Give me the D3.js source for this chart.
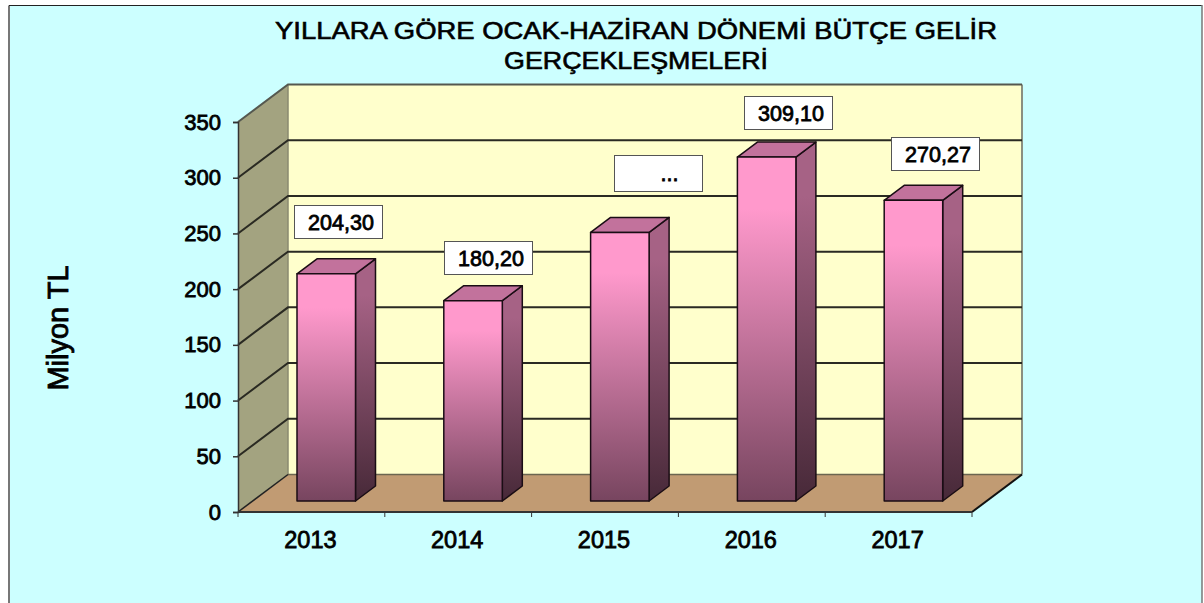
<!DOCTYPE html>
<html><head><meta charset="utf-8">
<script src="https://cdn.jsdelivr.net/npm/d3@7"></script>
<style>html,body{margin:0;padding:0;background:#fff;overflow:hidden}svg{display:block}text{font-family:"Liberation Sans",Arial,sans-serif;fill:#000;stroke:#000}</style>
</head><body><svg id="c" width="1204" height="603"></svg>
<script>
const titleLines=["YILLARA GÖRE OCAK-HAZİRAN DÖNEMİ BÜTÇE GELİR","GERÇEKLEŞMELERİ"];
const yAxisTitle="Milyon TL";
const categories=["2013","2014","2015","2016","2017"];
const values=[204.30,180.20,241.5,309.10,270.27];
const valueLabels=["204,30","180,20","...","309,10","270,27"];
const yTicks=[0,50,100,150,200,250,300,350];

const svg=d3.select("#c");
const L=238,R=972,B=512,T=122,DX=50,DY=-37.5;
const xOuter=d3.scaleBand().domain(categories).range([L,R]);
const y=d3.scaleLinear().domain([0,350]).range([B,T]);
const barW=58.5, sdx=20, sdy=-15, lift=-11;

const defs=svg.append("defs");
function grad(id,stops){const g=defs.append("linearGradient").attr("id",id).attr("x1",0).attr("x2",0).attr("y1",0).attr("y2",1);
 stops.forEach(s=>g.append("stop").attr("offset",s[0]).attr("stop-color",s[1]));}
grad("front",[[0,"#ff99cc"],[0.15,"#ff99cc"],[1,"#77455f"]]);
grad("side",[[0,"#a66285"],[0.15,"#a66285"],[1,"#472938"]]);

svg.append("rect").attr("x",9).attr("y",5).attr("width",1193).attr("height",610).attr("fill","#ccffff");
svg.append("path").attr("d","M9,603V5.5").attr("stroke","#777").attr("stroke-width",2).attr("fill","none");
svg.append("path").attr("d","M9,5.5H1202").attr("stroke","#222").attr("stroke-width",1).attr("fill","none");
svg.append("path").attr("d","M1202,5V603").attr("stroke","#777").attr("stroke-width",1.5).attr("fill","none");

svg.selectAll("text.t").data(titleLines).join("text").attr("class","t").attr("x",636).attr("y",(d,i)=>39+i*30)
 .attr("text-anchor","middle").attr("font-size",24).attr("textLength",(d,i)=>i?264:722).attr("lengthAdjust","spacingAndGlyphs").style("stroke-width",0.6).text(d=>d);

const P=(a)=>a.map(p=>p.join(",")).join(" ");
svg.append("polygon").attr("points",P([[L+DX,T+DY],[R+DX,T+DY],[R+DX,B+DY],[L+DX,B+DY]])).attr("fill","#ffffcc");
svg.append("polygon").attr("points",P([[L,T],[L+DX,T+DY],[L+DX,B+DY],[L,B]])).attr("fill","#a3a380");
svg.append("polygon").attr("points",P([[L,B],[L+DX,B+DY],[R+DX,B+DY],[R,B]])).attr("fill","#c19b73");
svg.append("path").attr("d",`M${R+DX},${T+DY}V${B+DY}`).attr("stroke","#8a8f80").attr("stroke-width",2).attr("fill","none");
svg.append("path").attr("d",`M${L+DX},${T+DY}V${B+DY}`).attr("stroke","#8a8a70").attr("stroke-width",1.5).attr("fill","none");
svg.append("path").attr("d",`M${L+DX},${B+DY}H${R+DX}`).attr("stroke","#6b6650").attr("stroke-width",1.5).attr("fill","none");
yTicks.filter(v=>v>0).forEach(v=>{
 svg.append("path").attr("d",`M${L},${y(v)}L${L+DX},${y(v)+DY}H${R+DX}`).attr("fill","none").attr("stroke",v===350?"#55584f":"#2a2a22").attr("stroke-width",2);
});
svg.append("path").attr("d",`M${L},${B}L${L+DX},${B+DY}`).attr("fill","none").attr("stroke","#222").attr("stroke-width",1.5);
svg.append("path").attr("d",`M${R},${B}L${R+DX},${B+DY}`).attr("fill","none").attr("stroke","#111").attr("stroke-width",2);

const ay=svg.append("g").attr("transform",`translate(${L},0)`).call(d3.axisLeft(y).tickValues(yTicks).tickSize(5).tickPadding(12));
ay.selectAll("text").attr("font-size",22).attr("font-family","Liberation Sans").style("fill","#000").style("stroke","#000").style("stroke-width",0.8);
ay.selectAll("line,path").attr("stroke","#333").attr("stroke-width",1.5);
const ax=svg.append("g").attr("transform",`translate(0,${B})`);
ax.append("path").attr("d",`M${L},0H${R}`).attr("stroke","#333").attr("stroke-width",2);
xOuter.domain().concat(["end"]).forEach((c,i)=>{const xp=L+i*xOuter.step();
 ax.append("line").attr("x1",xp).attr("x2",xp).attr("y1",0).attr("y2",5).attr("stroke","#333").attr("stroke-width",1);});
ax.selectAll("text").data(categories).join("text").attr("x",d=>xOuter(d)+xOuter.bandwidth()/2-1).attr("y",36)
 .attr("text-anchor","middle").attr("font-size",23.5).style("stroke-width",0.8).text(d=>d);

svg.append("text").attr("transform","translate(68,328) rotate(-90)").attr("text-anchor","middle").attr("font-size",29).style("stroke-width",0.8).text(yAxisTitle);

const bars=svg.append("g").selectAll("g").data(categories).join("g");
const bx=c=>xOuter(c)+59, base=B+lift, h=v=>y(0)-y(v);
bars.each(function(c,i){
 const g=d3.select(this),x0=bx(c),x1=x0+barW,yt=base-h(values[i])+.5;
 const st={stroke:"#1a0d14","stroke-width":1.5,"stroke-linejoin":"round"};
 const side=g.append("polygon").attr("points",P([[x1,yt],[x1+sdx,yt+sdy],[x1+sdx,base+sdy],[x1,base]])).attr("fill","url(#side)");
 const top=g.append("polygon").attr("points",P([[x0,yt],[x0+sdx,yt+sdy],[x1+sdx,yt+sdy],[x1,yt]])).attr("fill","#c2729c");
 const fr=g.append("rect").attr("x",x0).attr("y",yt).attr("width",barW).attr("height",base-yt).attr("fill","url(#front)");
 [side,top,fr].forEach(s=>Object.entries(st).forEach(([k,v])=>s.attr(k,v)));
});

const boxX=[294,444,614,744,891], boxY=[205,241,155,96,137], boxH=[33,33,36,33,33], boxW=88, textDx=[2.5,2.5,11,2.5,2.5];
const lab=svg.append("g").selectAll("g").data(valueLabels).join("g").attr("transform",(d,i)=>`translate(${boxX[i]+.5},${boxY[i]+.5})`);
lab.append("rect").attr("width",boxW).attr("height",(d,i)=>boxH[i]).attr("fill","#fff").attr("stroke","#555").attr("stroke-width",1);
lab.append("text").attr("x",(d,i)=>boxW/2+textDx[i]).attr("y",(d,i)=>boxH[i]/2+7.5).attr("text-anchor","middle").attr("font-size",21.5).style("stroke-width",0.8).text(d=>d);
</script></body></html>
